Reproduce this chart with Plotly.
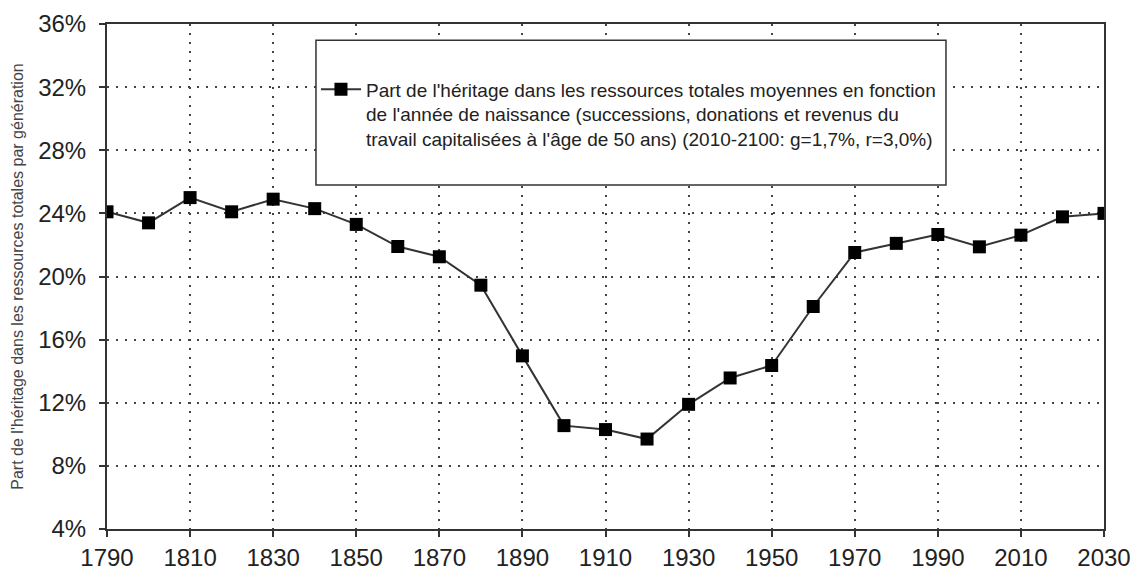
import plotly.graph_objects as go

years = [1790, 1800, 1810, 1820, 1830, 1840, 1850, 1860, 1870, 1880, 1890, 1900,
         1910, 1920, 1930, 1940, 1950, 1960, 1970, 1980, 1990, 2000, 2010, 2020, 2030]
share = [24.1, 23.4, 25.0, 24.1, 24.9, 24.3, 23.3, 21.9, 21.25, 19.45, 14.97, 10.55,
         10.3, 9.7, 11.9, 13.57, 14.36, 18.1, 21.52, 22.1, 22.66, 21.88, 22.62, 23.78, 24.0]
x_ticks = list(range(1790, 2031, 20))
y_ticks = list(range(4, 37, 4))

series_name = ("Part de l'héritage dans les ressources totales moyennes en fonction<br>"
               "de l'année de naissance (successions, donations et revenus du<br>"
               "travail capitalisées à l'âge de 50 ans) (2010-2100: g=1,7%, r=3,0%)")

fig = go.Figure()
fig.add_trace(go.Scatter(
    x=years, y=[v / 100 for v in share], mode="lines+markers",
    name=series_name,
    line=dict(color="#333333", width=2),
    marker=dict(symbol="square", size=13, color="#000000"),
))

# legend frame, larger than the legend itself
fig.add_shape(type="rect", xref="paper", yref="paper",
              x0=0.2096, x1=0.8415, y0=0.681, y1=0.968,
              fillcolor="white", line=dict(color="#333333", width=1.5), layer="above")

grid = dict(showgrid=True, gridcolor="#444444", gridwidth=1.5, griddash="2px,7px")
fig.update_layout(
    width=1131, height=572,
    margin=dict(l=107, r=27, t=24, b=43),
    paper_bgcolor="white", plot_bgcolor="white",
    font=dict(family="Liberation Sans, Arial, sans-serif", color="#222222"),
    showlegend=True,
    legend=dict(x=0.2096, y=0.908, xanchor="left", yanchor="top", valign="top",
                bgcolor="rgba(0,0,0,0)", font=dict(size=19, color="#222222"),
                itemwidth=40),
    xaxis=dict(range=[1790, 2030], tickvals=x_ticks, ticks="outside", ticklen=6,
               tickcolor="#333333", tickwidth=1.5, automargin=False,
               showline=True, linecolor="#333333", linewidth=2, mirror=True,
               tickfont=dict(size=24), zeroline=False, **grid),
    yaxis=dict(range=[0.04, 0.36], tickvals=[t / 100 for t in y_ticks],
               ticktext=[f"{t}%" for t in y_ticks], ticks="outside", ticklen=6,
               tickcolor="#333333", tickwidth=1.5, automargin=False,
               ticklabelstandoff=8,
               showline=True, linecolor="#333333", linewidth=2, mirror=True,
               tickfont=dict(size=24), zeroline=False,
               title=dict(text="Part de l'héritage dans les ressources totales par génération",
                          font=dict(size=16, color="#444444"), standoff=11),
               **grid),
)

# the page body has a default 8px margin; remove it so the figure fills the window
fig.write_html("out.html", config={"displayModeBar": False},
               post_script="document.body.style.margin='0';")
